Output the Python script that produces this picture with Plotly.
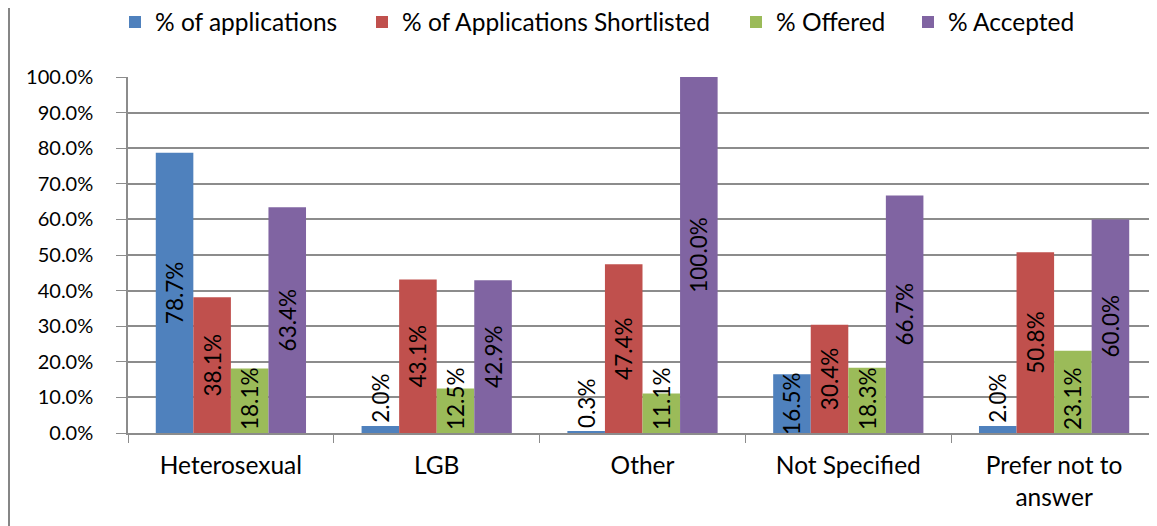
import plotly.graph_objects as go

categories = ["Heterosexual", "LGB", "Other", "Not Specified", "Prefer not to<br>answer"]
pct_applications = [78.7, 2.0, 0.3, 16.5, 2.0]
pct_shortlisted = [38.1, 43.1, 47.4, 30.4, 50.8]
pct_offered = [18.1, 12.5, 11.1, 18.3, 23.1]
pct_accepted = [63.4, 42.9, 100.0, 66.7, 60.0]

series = [
    ("% of applications", pct_applications, "#4F81BD"),
    ("% of Applications Shortlisted", pct_shortlisted, "#C0504D"),
    ("% Offered", pct_offered, "#9BBB59"),
    ("% Accepted", pct_accepted, "#8064A2"),
]

FONT = "Lato"
W, H = 1149, 518          # page body adds an 8px margin
legend_x = [107, 354, 728, 900]   # left of each legend entry (figure px)

fig = go.Figure()
legends = {}
for i, (name, vals, color) in enumerate(series):
    key = "legend" if i == 0 else f"legend{i + 1}"
    # the short green bars carry their labels from the base, like the original
    pos, anchor = ("inside", "start") if i == 2 else ("auto", "middle")
    fig.add_trace(go.Bar(
        x=categories, y=vals, name=name, legend=key,
        marker=dict(color=color, line=dict(width=0)),
        texttemplate="%{y:.1f}%", textposition=pos, textangle=-90,
        insidetextanchor=anchor, constraintext="none",
        textfont=dict(family=FONT, size=22.5, color="black"),
        cliponaxis=False,
    ))
    legends[key] = dict(orientation="h", xref="container", yref="container",
                        x=legend_x[i] / W, y=1 - 14 / H,
                        xanchor="left", yanchor="middle",
                        font=dict(size=24.5), bgcolor="rgba(0,0,0,0)")

fig.update_layout(
    width=W, height=H,
    margin=dict(l=120, r=0, t=69, b=93, autoexpand=False),
    barmode="group", bargap=0.27, bargroupgap=0,
    paper_bgcolor="white", plot_bgcolor="white",
    font=dict(family=FONT, size=20, color="black"),
    showlegend=True,
    shapes=[dict(type="line", xref="paper", yref="paper",
                 x0=-119 / 1029, x1=-119 / 1029, y0=-0.5, y1=1.5,
                 line=dict(color="#868686", width=2))],
    **legends,
)
fig.update_yaxes(range=[0, 100], dtick=10, ticksuffix="%", tickformat=".1f",
                 showgrid=True, gridcolor="#8C8C8C", gridwidth=1.5,
                 showline=True, linecolor="#8C8C8C", linewidth=1.5,
                 ticks="outside", ticklen=10, tickcolor="#8C8C8C",
                 ticklabelstandoff=19, zeroline=False, automargin=False)
fig.update_xaxes(showline=True, linecolor="#8C8C8C", linewidth=1.5,
                 ticks="outside", tickson="boundaries", ticklen=8,
                 tickcolor="#8C8C8C", ticklabelstandoff=10,
                 tickfont=dict(size=24.5), tickangle=0, automargin=False)

fig.write_html("out.html")
